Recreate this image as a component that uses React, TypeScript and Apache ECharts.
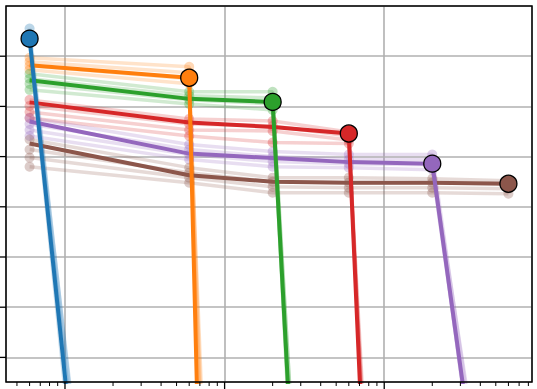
import React, { useEffect, useRef } from "react";
import * as echarts from "echarts";

// x positions (log axis)
const xPoints = [0.6, 6, 20, 60, 200, 600];
const colors = ["#1f77b4", "#ff7f0e", "#2ca02c", "#d62728", "#9467bd", "#8c564b"];

// mean curves; the value after the end point is the collapse (off the chart)
const blueMean = [7.35, -23];
const orangeMean = [6.82, 6.57, -60];
const greenMean = [6.52, 6.15, 6.09, -22];
const redMean = [6.08, 5.68, 5.59, 5.46, -32];
const purpleMean = [5.7, 5.06, 4.97, 4.89, 4.86, -6.1];
const brownMean = [5.26, 4.63, 4.5, 4.48, 4.48, 4.46];

// individual runs (faint)
const blueRuns = [
  [7.55, -21],
  [7.43, -22],
  [7.27, -24],
  [7.35, -20],
];
const orangeRuns = [
  [6.97, 6.79, -45],
  [6.89, 6.67, -40],
  [6.81, 6.55, -50],
  [6.73, 6.45, -35],
];
const greenRuns = [
  [6.65, 6.29, 6.29, -20],
  [6.55, 6.21, 6.17, -24],
  [6.45, 6.13, 6.05, -19],
  [6.33, 6.05, 5.93, -22],
];
const redRuns = [
  [6.13, 5.75, 5.71, 5.49, -28],
  [6.01, 5.65, 5.61, 5.41, -30],
  [5.89, 5.53, 5.51, 5.33, -25],
  [5.77, 5.41, 5.28, 5.26, -27],
];
const purpleRuns = [
  [5.77, 5.24, 5.1, 5.04, 5.04, -5.5],
  [5.65, 5.14, 5.0, 4.94, 4.94, -6.5],
  [5.53, 5.04, 4.9, 4.86, 4.84, -5.0],
  [5.41, 4.94, 4.8, 4.78, 4.74, -6.0],
];
const brownRuns = [
  [5.34, 4.78, 4.58, 4.58, 4.56, 4.52],
  [5.14, 4.68, 4.5, 4.48, 4.48, 4.46],
  [4.98, 4.58, 4.4, 4.38, 4.38, 4.36],
  [4.8, 4.48, 4.28, 4.28, 4.28, 4.26],
];

const means = [blueMean, orangeMean, greenMean, redMean, purpleMean, brownMean];
const runs = [blueRuns, orangeRuns, greenRuns, redRuns, purpleRuns, brownRuns];
const endIndex = [0, 1, 2, 3, 4, 5];

const xMajorTicks = [1, 10, 100];
const xMinorTicks = [
  0.5, 0.6, 0.7, 0.8, 0.9,
  2, 3, 4, 5, 6, 7, 8, 9,
  20, 30, 40, 50, 60, 70, 80, 90,
  200, 300, 400, 500, 600, 700, 800,
];
const yTicks = [1, 2, 3, 4, 5, 6, 7];

const X_MIN = 0.427;
const X_MAX = 843;
const Y_MIN = 0.51;
const Y_MAX = 8;

export default function App() {
  const ref = useRef<HTMLDivElement>(null);
  useEffect(() => {
    document.body.style.margin = "0";
    const chart = echarts.init(ref.current!, null, { renderer: "svg" });
    const series: any[] = [];

    // faint runs
    runs.forEach((group, i) => {
      group.forEach((run) => {
        series.push({
          type: "line",
          data: run.map((v, j) => [xPoints[j], v]),
          symbol: "circle",
          symbolSize: 10,
          showSymbol: true,
          lineStyle: { color: colors[i], width: 3.5, opacity: 0.22 },
          itemStyle: { color: colors[i], opacity: 0.3 },
          z: 2,
          silent: true,
          clip: true,
        });
      });
    });

    // mean lines, reverse order so earlier series sit on top
    for (let i = means.length - 1; i >= 0; i--) {
      series.push({
        type: "line",
        data: means[i].map((v, j) => [xPoints[j], v]),
        symbol: "none",
        showSymbol: false,
        lineStyle: { color: colors[i], width: 4 },
        z: 3,
        silent: true,
        clip: true,
      });
    }

    // end markers
    series.push({
      type: "scatter",
      data: means.map((m, i) => ({
        value: [xPoints[endIndex[i]], m[endIndex[i]]],
        itemStyle: { color: colors[i], opacity: 1 },
      })),
      symbolSize: 17,
      itemStyle: { borderColor: "#000", borderWidth: 1.3, opacity: 1 },
      z: 5,
      silent: true,
    });

    // ticks
    series.push({
      type: "custom",
      data: xMajorTicks.map((v) => [v, Y_MIN]),
      renderItem: (_p: any, api: any) => {
        const p = api.coord([api.value(0), api.value(1)]);
        return {
          type: "line",
          shape: { x1: p[0], y1: p[1], x2: p[0], y2: p[1] + 7 },
          style: { stroke: "#000", lineWidth: 1.3 },
        };
      },
      clip: false,
      silent: true,
      z: 10,
    });
    series.push({
      type: "custom",
      data: xMinorTicks.map((v) => [v, Y_MIN]),
      renderItem: (_p: any, api: any) => {
        const p = api.coord([api.value(0), api.value(1)]);
        return {
          type: "line",
          shape: { x1: p[0], y1: p[1], x2: p[0], y2: p[1] + 4 },
          style: { stroke: "#000", lineWidth: 1 },
        };
      },
      clip: false,
      silent: true,
      z: 10,
    });
    series.push({
      type: "custom",
      data: yTicks.map((v) => [X_MIN, v]),
      renderItem: (_p: any, api: any) => {
        const p = api.coord([api.value(0), api.value(1)]);
        return {
          type: "line",
          shape: { x1: p[0] - 7, y1: p[1], x2: p[0], y2: p[1] },
          style: { stroke: "#000", lineWidth: 1.3 },
        };
      },
      clip: false,
      silent: true,
      z: 10,
    });

    chart.setOption({
      animation: false,
      grid: {
        left: 6,
        top: 6,
        width: 526,
        height: 376,
        show: true,
        borderColor: "#000",
        borderWidth: 1.5,
        backgroundColor: "transparent",
        z: 6,
      },
      xAxis: {
        type: "log",
        logBase: 10,
        min: X_MIN,
        max: X_MAX,
        axisLabel: { show: false },
        axisTick: { show: false },
        axisLine: { show: false },
        splitLine: { show: true, lineStyle: { color: "#b0b0b0", width: 1.6 } },
        minorSplitLine: { show: false },
      },
      yAxis: {
        type: "value",
        min: Y_MIN,
        max: Y_MAX,
        splitNumber: 7,
        minInterval: 1,
        maxInterval: 1,
        axisLabel: { show: false },
        axisTick: { show: false },
        axisLine: { show: false },
        splitLine: { show: true, lineStyle: { color: "#b0b0b0", width: 1.6 } },
      },
      series,
    });
    return () => chart.dispose();
  }, []);
  return (
    <div
      ref={ref}
      style={{ position: "absolute", left: 0, top: 0, width: 537, height: 389 }}
    />
  );
}
